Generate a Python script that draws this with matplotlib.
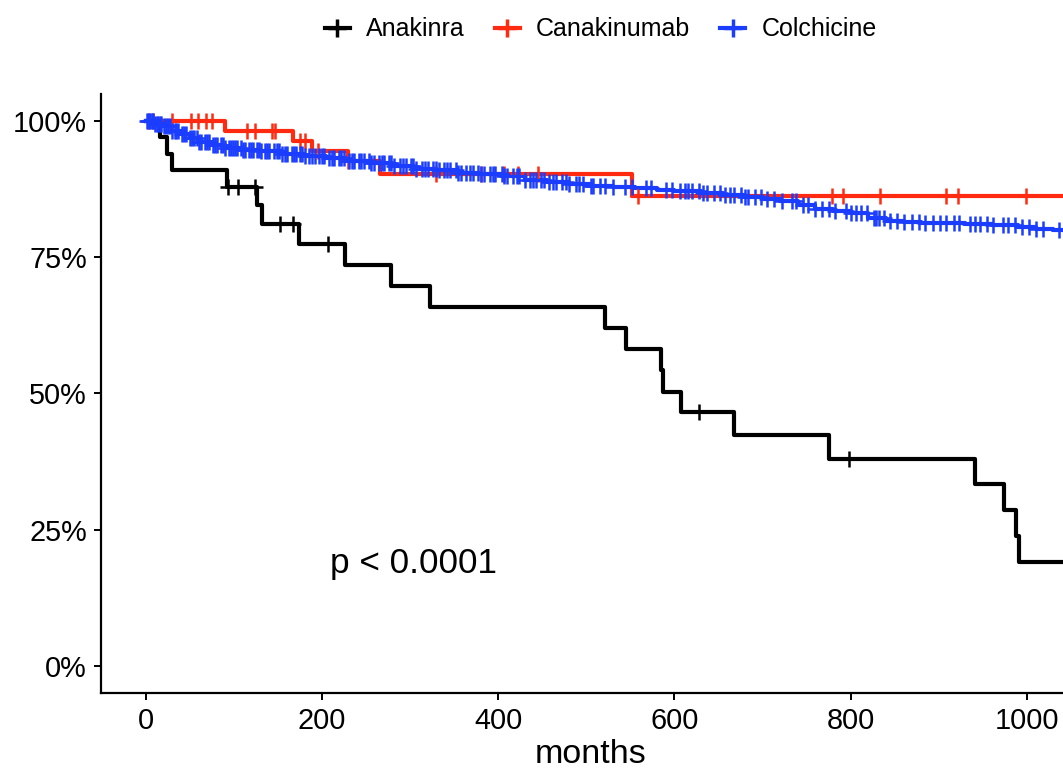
import numpy as np
import matplotlib
matplotlib.use("Agg")
import matplotlib.pyplot as plt
from matplotlib.lines import Line2D

plt.rcParams['font.family'] = ['Liberation Sans', 'DejaVu Sans']

# ---------------- data ----------------
groups = ["Anakinra", "Canakinumab", "Colchicine"]
colors = ["#000000", "#FF2A0F", "#1A3DFF"]

anakinra_t = [0, 17, 24, 30, 92, 126, 132, 174.5, 226, 279, 323, 521, 545, 585, 587,
              608, 668, 775, 941, 974, 988, 991]
anakinra_s = [1.0, 0.970, 0.939, 0.909, 0.879, 0.845, 0.811, 0.774, 0.736, 0.697, 0.658,
              0.619, 0.581, 0.542, 0.503, 0.465, 0.423, 0.380, 0.333, 0.285, 0.238, 0.190]
anakinra_cens = [93.6, 105, 124, 152.6, 167, 207, 628, 798]

canakinumab_t = [0, 90, 167, 189, 230, 266, 551.5]
canakinumab_s = [1.0, 0.982, 0.963, 0.944, 0.926, 0.903, 0.862]
canakinumab_cens = [3, 8, 30, 52, 60, 69, 75, 115, 124, 143, 147, 175, 181, 196, 230,
                    329, 381, 407, 423, 445, 559, 778.5, 791, 833, 908, 922, 999]

colchicine_t = [0, 10, 20, 30, 40, 50, 60, 75, 90, 110, 130, 155, 180, 205, 230, 255,
                280, 305, 330, 355, 380, 405, 430, 455, 480, 505, 530, 555, 580, 600,
                630, 655, 680, 700, 720, 740, 760, 780, 800, 820, 840, 860, 880, 900,
                930, 960, 990, 1010, 1030, 1050]
colchicine_s = [1.0, 0.995, 0.990, 0.982, 0.975, 0.968, 0.962, 0.956, 0.951, 0.947,
                0.944, 0.940, 0.936, 0.931, 0.926, 0.922, 0.917, 0.912, 0.909, 0.905,
                0.902, 0.898, 0.892, 0.887, 0.884, 0.881, 0.879, 0.876, 0.873, 0.871,
                0.868, 0.864, 0.861, 0.857, 0.852, 0.845, 0.839, 0.835, 0.831, 0.822,
                0.816, 0.814, 0.813, 0.812, 0.810, 0.808, 0.806, 0.802, 0.799, 0.797]
colchicine_cens = [2, 4, 5, 7, 8, 11, 13, 14, 16, 18, 21, 23, 25, 28, 30, 33, 35, 37, 41,
                   44, 46, 50, 53, 55, 58, 61, 63, 67, 70, 72, 76, 79, 81, 86, 88, 90, 95,
                   97, 99,
                   102, 104, 108, 111, 113, 117, 120, 122, 127, 129, 131, 136, 138, 140,
                   146, 149, 151, 155, 158, 160, 166, 169, 171, 175, 178, 181, 186, 189,
                   192, 197,
                   200, 203, 208, 211, 214, 219, 222, 225, 231, 234, 236, 242, 245, 248,
                   253, 256, 259, 265, 268, 270, 276, 279, 282, 289, 292, 295,
                   301, 304, 307, 314, 317, 320, 326, 329, 333, 339, 342, 346, 352, 355,
                   358, 364, 368, 371, 377, 381, 384, 391, 394, 397,
                   404, 407, 410, 417, 421, 424, 431, 436, 440, 443, 449, 452, 458, 462,
                   466, 473, 477, 480, 488, 492, 496,
                   505, 508, 516, 521, 530, 544, 552, 568, 573, 590, 597,
                   606, 612, 616, 620, 628, 633, 637, 645, 652, 657, 663, 668, 676, 680,
                   684, 691, 698,
                   705, 713, 722, 733, 738, 746, 752, 760, 768, 775, 782, 795, 800,
                   806, 812, 818, 826, 829, 832, 838, 845, 853, 861, 870, 878, 884, 893,
                   901, 908, 917, 923, 935, 941, 947, 955, 962, 973, 978, 986, 994,
                   1002, 1010, 1018, 1036, 1042, 1049, 1056]

t_end = 1100
x_ticks = [0, 200, 400, 600, 800, 1000]
y_ticks = [0, 0.25, 0.5, 0.75, 1.0]
y_labels = ["0%", "25%", "50%", "75%", "100%"]
pval_text = "p < 0.0001"

series = [(anakinra_t, anakinra_s, anakinra_cens),
          (canakinumab_t, canakinumab_s, canakinumab_cens),
          (colchicine_t, colchicine_s, colchicine_cens)]

# ---------------- figure ----------------
fig = plt.figure(figsize=(10.63, 7.70), dpi=100)
ax = fig.add_axes([101 / 1063, 77 / 770, 979.3 / 1063, 599.4 / 770])

lw = 3.0
for (t, s, c), col in zip(series, colors):
    tt = list(t) + [t_end]
    ss = list(s) + [s[-1]]
    ax.step(tt, ss, where='post', color=col, lw=lw, zorder=2, clip_on=True)

for (t, s, c), col in zip(series, colors):
    idx = np.searchsorted(np.asarray(t, float), np.asarray(c, float), side='right') - 1
    cy = np.asarray(s)[idx]
    ax.plot(c, cy, linestyle='none', marker='+', ms=11.5, mew=1.8, color=col, zorder=3)

ax.set_xlim(-50.5, 1060.5)
ax.set_ylim(-0.05, 1.05)
ax.set_xticks(x_ticks)
ax.set_xticklabels([str(v) for v in x_ticks])
ax.set_yticks(y_ticks)
ax.set_yticklabels(y_labels)

for side in ['top', 'right']:
    ax.spines[side].set_visible(False)
for side in ['left', 'bottom']:
    ax.spines[side].set_linewidth(1.6)
ax.tick_params(axis='both', length=5, width=1.4, labelsize=20.8, colors='black')
ax.tick_params(axis='x', pad=5)
ax.tick_params(axis='y', pad=5)
ax.set_xlabel("months", fontsize=24.5, labelpad=3)

ax.text(209, 0.188, pval_text, fontsize=25.3, ha='left', va='center')

handles = [Line2D([], [], color=col, lw=3, marker='+', ms=13, mew=2.5) for col in colors]
fig.legend(handles, groups, loc='center', bbox_to_anchor=(0.565, 0.962), ncol=3,
           frameon=False, fontsize=18, handlelength=1.0, handletextpad=0.65,
           columnspacing=1.2)

fig.savefig("out.png", dpi=100)
